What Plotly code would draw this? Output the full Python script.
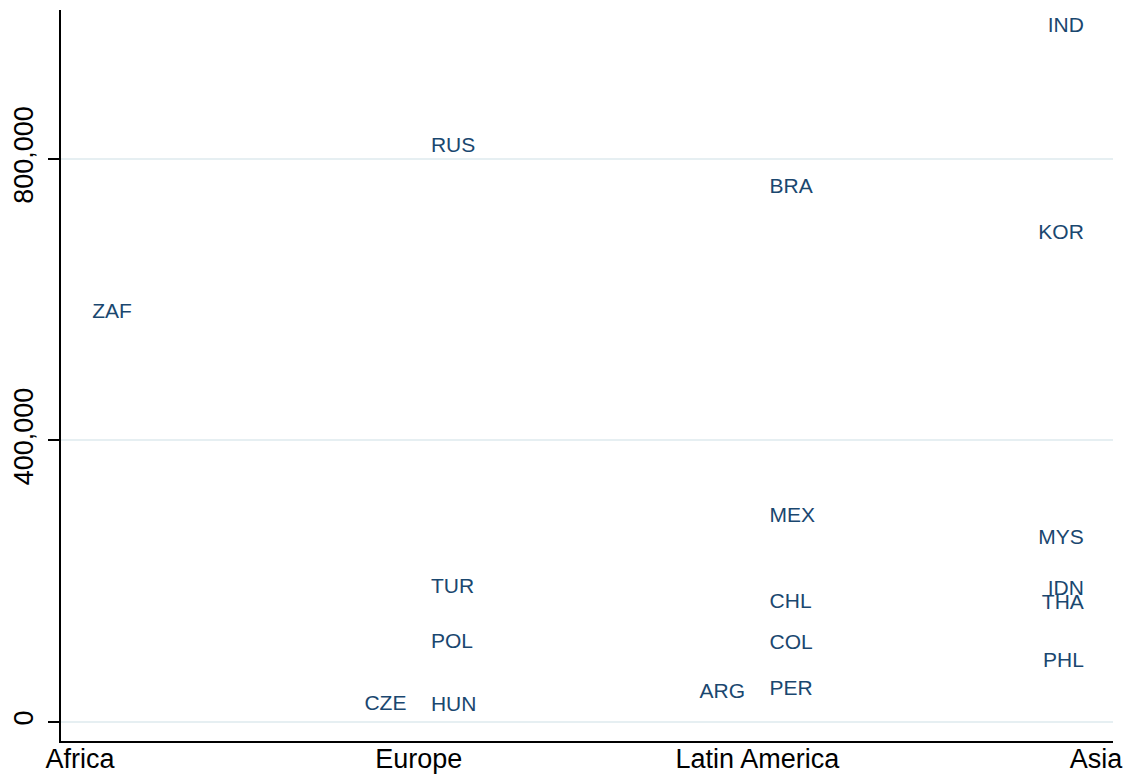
import plotly.graph_objects as go

regions = ["Africa", "Europe", "Latin America", "Asia"]

countries = ["ZAF", "RUS", "TUR", "POL", "CZE", "HUN",
             "BRA", "MEX", "CHL", "COL", "ARG", "PER",
             "IND", "KOR", "MYS", "IDN", "THA", "PHL"]
country_region = [1, 2, 2, 2, 2, 2,
                  3, 3, 3, 3, 3, 3,
                  4, 4, 4, 4, 4, 4]
values = [582000, 817000, 191000, 112000, 24000, 22500,
          759000, 292000, 170000, 111000, 41000, 45500,
          988000, 694000, 261000, 188000, 168000, 85000]
label_side = ["right", "right", "right", "right", "left", "right",
              "right", "right", "right", "right", "left", "right",
              "left", "left", "left", "left", "left", "left"]

fig = go.Figure()
for side in ["right", "left"]:
    idx = [i for i, s in enumerate(label_side) if s == side]
    fig.add_trace(go.Scatter(
        x=[country_region[i] for i in idx],
        y=[values[i] for i in idx],
        text=[countries[i] for i in idx],
        mode="markers+text",
        textposition="middle " + side,
        marker=dict(size=18, opacity=0),
        textfont=dict(family="Liberation Sans, Arial, sans-serif", size=21, color="#1a476f"),
        hoverinfo="text",
        showlegend=False,
    ))

# the page body has an 8px margin, so the figure is sized to fit the window
fig.update_layout(
    width=1123, height=767,
    margin=dict(l=53, r=18, t=2, b=34),
    paper_bgcolor="white", plot_bgcolor="white",
    font=dict(family="Liberation Sans, Arial, sans-serif", color="black"),
    xaxis=dict(
        range=[0.944, 4.05],
        tickvals=[1, 2, 3, 4], ticktext=regions,
        showgrid=False, zeroline=False, automargin=False,
        showline=True, linecolor="black", linewidth=1.5,
        ticks="", tickfont=dict(size=27), ticklabelstandoff=-7,
    ),
    yaxis=dict(
        range=[-27000, 1011700],
        tickvals=[0, 400000, 800000], ticktext=["0", "400,000", "800,000"],
        tickangle=-90, automargin=False,
        showgrid=True, gridcolor="#e6eff2", gridwidth=2,
        zeroline=False,
        showline=True, linecolor="black", linewidth=1.5,
        ticks="outside", ticklen=11, tickcolor="black", tickwidth=1.5,
        tickfont=dict(size=27), ticklabelstandoff=4,
    ),
)

fig.write_html("out.html")
